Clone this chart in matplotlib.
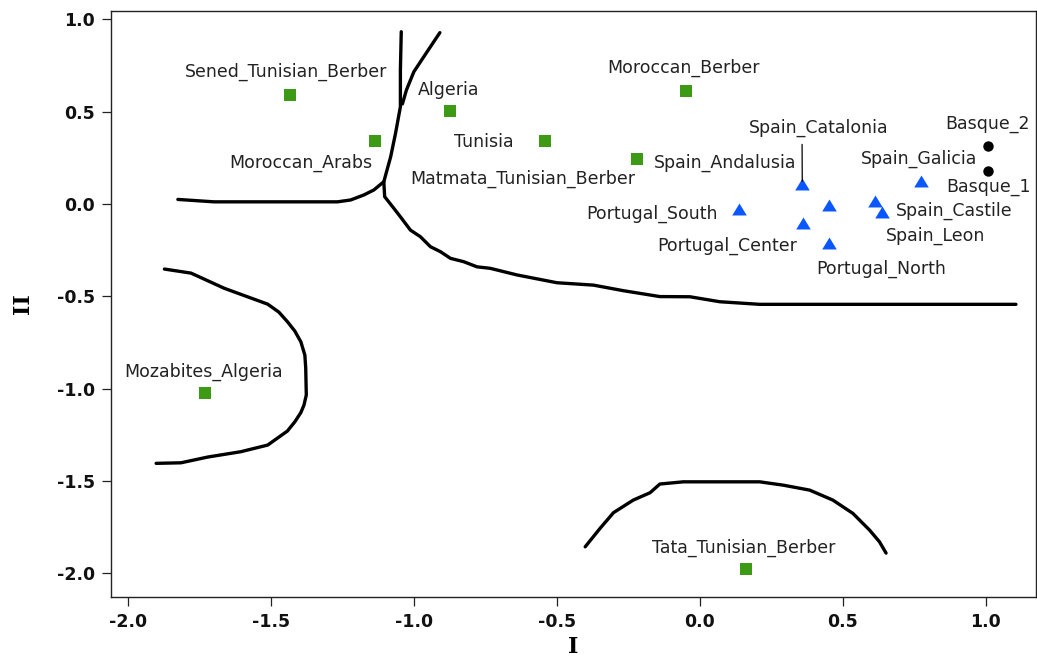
import matplotlib
matplotlib.use("Agg")
import matplotlib.pyplot as plt

# ---- populations (principal coordinates I and II) ----
africa_names = ["Sened_Tunisian_Berber", "Moroccan_Arabs", "Algeria", "Tunisia",
                "Matmata_Tunisian_Berber", "Moroccan_Berber", "Mozabites_Algeria",
                "Tata_Tunisian_Berber"]
africa_x = [-1.434, -1.136, -0.875, -0.543, -0.220, -0.049, -1.729, 0.160]
africa_y = [0.590, 0.340, 0.502, 0.341, 0.245, 0.614, -1.025, -1.975]

iberia_names = ["Portugal_South", "Spain_Catalonia", "Portugal_Center", "Spain_Andalusia",
                "Spain_Leon", "Spain_Castile", "Spain_Galicia", "Portugal_North"]
iberia_x = [0.136, 0.358, 0.359, 0.450, 0.612, 0.637, 0.773, 0.450]
iberia_y = [-0.029, 0.107, -0.101, -0.005, 0.016, -0.042, 0.125, -0.213]

basque_names = ["Basque_2", "Basque_1"]
basque_x = [1.009, 1.009]
basque_y = [0.314, 0.179]

# ---- hand-drawn group boundaries ----
bound_a_x = [-1.825, -1.699, -1.267, -1.221, -1.175, -1.140, -1.105, -1.081, -1.064, -1.047,
             -1.047, -1.044]
bound_a_y = [0.025, 0.012, 0.012, 0.022, 0.049, 0.076, 0.121, 0.256, 0.383, 0.527,
             0.726, 0.933]

bound_b_x = [-1.040, -1.026, -1.000, -0.965, -0.938, -0.909]
bound_b_y = [0.542, 0.617, 0.716, 0.798, 0.861, 0.928]

bound_c_x = [-1.105, -1.102, -1.070, -1.047, -1.012, -0.977, -0.942, -0.907, -0.872, -0.826,
             -0.779, -0.733, -0.639, -0.500, -0.372, -0.268, -0.140, -0.035, 0.070, 0.209, 1.105]
bound_c_y = [0.121, 0.040, -0.023, -0.069, -0.141, -0.177, -0.231, -0.258, -0.294, -0.312,
             -0.340, -0.348, -0.384, -0.426, -0.439, -0.469, -0.501, -0.502, -0.529, -0.543, -0.543]

bound_d_x = [-1.872, -1.779, -1.663, -1.511, -1.472, -1.442, -1.416, -1.395, -1.381, -1.378,
             -1.376, -1.384, -1.395, -1.416, -1.442, -1.511, -1.605, -1.721, -1.814, -1.901]
bound_d_y = [-0.352, -0.374, -0.456, -0.542, -0.585, -0.637, -0.688, -0.746, -0.818, -0.888,
             -1.034, -1.088, -1.129, -1.179, -1.229, -1.305, -1.341, -1.370, -1.401, -1.404]

bound_e_x = [-0.401, -0.349, -0.302, -0.233, -0.174, -0.140, -0.058, 0.209, 0.291, 0.384,
             0.465, 0.535, 0.593, 0.628, 0.651]
bound_e_y = [-1.856, -1.756, -1.671, -1.603, -1.563, -1.516, -1.504, -1.504, -1.522, -1.549,
             -1.603, -1.675, -1.765, -1.829, -1.890]

x_ticks = [-2.0, -1.5, -1.0, -0.5, 0.0, 0.5, 1.0]
y_ticks = [1.0, 0.5, 0.0, -0.5, -1.0, -1.5, -2.0]

# label placement: (dx, dy) in points, horizontal alignment
label_layout = {
    "Sened_Tunisian_Berber": (-2.5, 16.8, "center"),
    "Moroccan_Arabs": (-1.9, -15.8, "right"),
    "Algeria": (-0.7, 15.3, "center"),
    "Tunisia": (-22.5, -0.5, "right"),
    "Matmata_Tunisian_Berber": (-1.4, -14.1, "right"),
    "Moroccan_Berber": (-1.4, 16.1, "center"),
    "Mozabites_Algeria": (-1.4, 15.6, "center"),
    "Tata_Tunisian_Berber": (-1.6, 15.4, "center"),
    "Portugal_South": (-14.9, -2.9, "right"),
    "Spain_Catalonia": (11.9, 40.3, "center"),
    "Portugal_Center": (-4.1, -16.8, "right"),
    "Spain_Andalusia": (-23.3, 30.0, "right"),
    "Spain_Leon": (43.6, -25.2, "center"),
    "Spain_Castile": (10.1, 0.7, "left"),
    "Spain_Galicia": (-1.6, 15.6, "center"),
    "Portugal_North": (37.9, -18.0, "center"),
    "Basque_2": (-0.9, 15.8, "center"),
    "Basque_1": (0.0, -11.3, "center"),
}

plt.rcParams["font.family"] = ["DejaVu Sans"]

fig = plt.figure(figsize=(10.37, 6.67), dpi=100)
ax = fig.add_axes([0.1067, 0.1054, 0.8923, 0.8786])

for bx, by in [(bound_a_x, bound_a_y), (bound_b_x, bound_b_y), (bound_c_x, bound_c_y),
               (bound_d_x, bound_d_y), (bound_e_x, bound_e_y)]:
    ax.plot(bx, by, color="black", lw=2.4, solid_capstyle="round", solid_joinstyle="round", zorder=2)

# slightly flattened upward triangle
wide_triangle = [(-1.0, -0.82), (1.0, -0.82), (0.0, 0.82), (-1.0, -0.82)]

ax.plot(africa_x, africa_y, ls="none", marker="s", ms=9, color="#3d9a14", mew=0, zorder=3)
ax.plot(iberia_x, iberia_y, ls="none", marker=wide_triangle, ms=10.5, color="#0a57ff", mew=0, zorder=3)
ax.plot(basque_x, basque_y, ls="none", marker="o", ms=7.5, color="black", mew=0, zorder=3)

for names, xs, ys in [(africa_names, africa_x, africa_y),
                      (iberia_names, iberia_x, iberia_y),
                      (basque_names, basque_x, basque_y)]:
    for n, x, y in zip(names, xs, ys):
        dx, dy, ha = label_layout[n]
        kw = {}
        if n == "Spain_Catalonia":
            kw["arrowprops"] = dict(arrowstyle="-", color="black", lw=0.9,
                                    relpos=(0.38, 0.0), shrinkA=3, shrinkB=2)
        ax.annotate(n, (x, y), xytext=(dx, dy), textcoords="offset points",
                    ha=ha, va="center", fontsize=12.5, color="#222222", zorder=4, **kw)

ax.set_xlim(-2.06, 1.175)
ax.set_ylim(-2.126, 1.047)
ax.set_xticks(x_ticks)
ax.set_yticks(y_ticks)
ax.set_xticklabels([f"{v:.1f}" for v in x_ticks])
ax.set_yticklabels([f"{v:.1f}" for v in y_ticks])
ax.tick_params(direction="out", length=6.5, width=0.9, labelsize=12.5, pad=5, color="#222222")
for lab in ax.get_xticklabels() + ax.get_yticklabels():
    lab.set_fontweight("bold")
    lab.set_color("#111111")
for sp in ax.spines.values():
    sp.set_linewidth(1.0)
    sp.set_color("#222222")

ax.set_xlabel("I", family="DejaVu Serif", fontweight="bold", fontsize=16, labelpad=4)
ax.set_ylabel("II", family="DejaVu Serif", fontweight="bold", fontsize=16, labelpad=16)

fig.savefig("out.png", dpi=100)
